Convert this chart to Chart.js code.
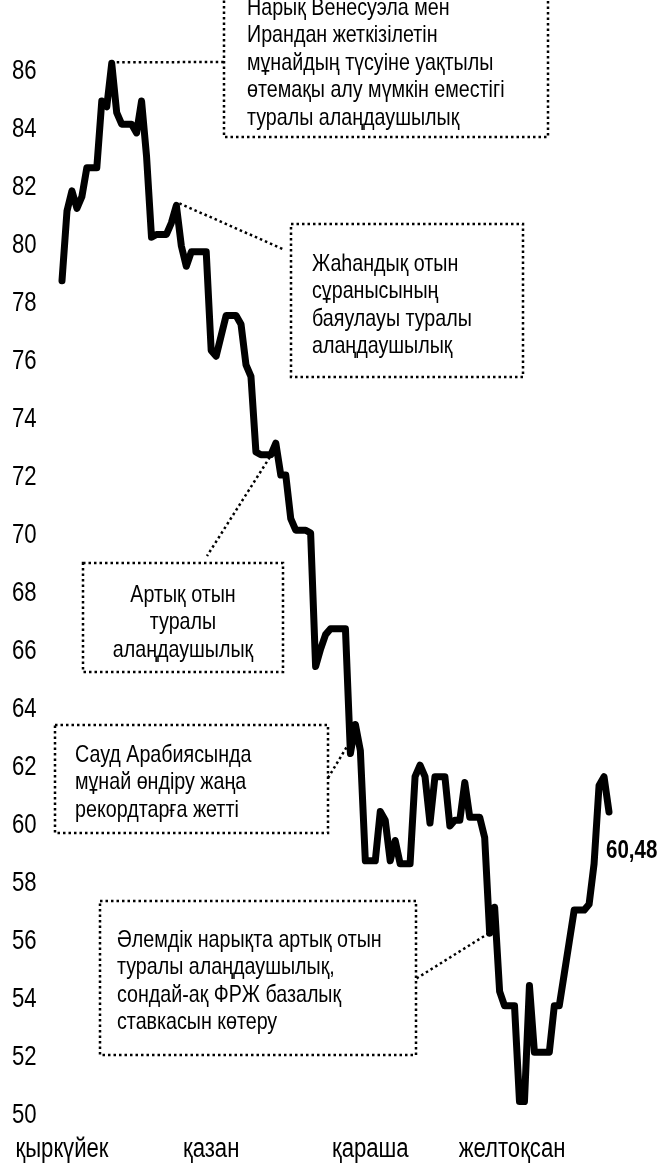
<!DOCTYPE html>
<html>
<head>
<meta charset="utf-8">
<script src="https://cdn.jsdelivr.net/npm/chart.js@4/dist/chart.umd.min.js"></script>
<style>
  html, body { margin: 0; padding: 0; background: #fff; }
  canvas { display: block; }
</style>
</head>
<body>
<canvas id="chart" width="662" height="1164"></canvas>
<script>
// daily closing price (weekends carry the previous value)
const prices = [
  78.8, 81.2, 81.9, 81.3, 81.7, 82.7, 82.7, 82.7, 85.0, 84.8,
  86.3, 84.6, 84.2, 84.2, 84.2, 83.9, 85.0, 83.1, 80.3, 80.4,
  80.4, 80.4, 80.8, 81.4, 80.0, 79.3, 79.8, 79.8, 79.8, 79.8,
  76.4, 76.2, 76.9, 77.6, 77.6, 77.6, 77.3, 75.9, 75.5, 72.9,
  72.8, 72.8, 72.8, 73.2, 72.1, 72.1, 70.6, 70.2, 70.2, 70.2,
  70.1, 65.5, 66.1, 66.6, 66.8, 66.8, 66.8, 66.8, 62.5, 63.5,
  62.6, 58.8, 58.8, 58.8, 60.5, 60.2, 58.8, 59.5, 58.7, 58.7,
  58.7, 61.7, 62.1, 61.7, 60.1, 61.7, 61.7, 61.7, 60.0, 60.2,
  60.2, 61.5, 60.3, 60.3, 60.3, 59.6, 56.3, 57.2, 54.3, 53.8,
  53.8, 53.8, 50.5, 50.5, 54.5, 52.2, 52.2, 52.2, 52.2, 53.8,
  53.8, 54.9, 56.0, 57.1, 57.1, 57.1, 57.3, 58.7, 61.4, 61.7,
  60.48
]

// month labels and the day index they sit under
const monthLabels = ['қыркүйек', 'қазан', 'қараша', 'желтоқсан']
const monthPos = [0, 30, 62, 90.5]

const yMin = 50
const yMax = 86
const yStep = 2

const lastLabel = '60,48'

// annotation texts and the day each one points at
const noteTexts = [
  ['Нарық Венесуэла мен', 'Ирандан жеткізілетін', 'мұнайдың түсуіне уақтылы', 'өтемақы алу мүмкін еместігі', 'туралы алаңдаушылық'],
  ['Жаһандық отын', 'сұранысының', 'баяулауы туралы', 'алаңдаушылық'],
  ['Артық отын', 'туралы', 'алаңдаушылық'],
  ['Сауд Арабиясында', 'мұнай өндіру жаңа', 'рекордтарға жетті'],
  ['Әлемдік нарықта артық отын', 'туралы алаңдаушылық,', 'сондай-ақ ФРЖ базалық', 'ставкасын көтеру']
]
const noteDays = [10, 23, 43, 58, 86]

const FONT = '"Liberation Sans", Arial, sans-serif'
const NARROW = 0.82 // squeeze to look like Arial Narrow

// box layout in pixels: [left, top, right, bottom], text x, first line y, align, connector
const noteLayout = [
  { box: [224, -5, 548, 137], tx: 247, ty: 8, align: 'left', off: [5, -1], end: [224, 62] },
  { box: [291, 224, 523, 377], tx: 312, ty: 264, align: 'left', off: [3, -2], end: [285, 250] },
  { box: [83, 563, 283, 672], tx: 183, ty: 595, align: 'center', off: [-6, 14], end: [207, 556] },
  { box: [55, 725, 328, 833], tx: 75, ty: 755, align: 'left', off: [-4, -6], end: [328, 778] },
  { box: [100, 901, 416, 1055], tx: 117, ty: 940, align: 'left', off: [-1, 0], end: [414, 980] }
]
const lineStep = 27.5

function narrowText(ctx, str, x, y, font, align) {
  ctx.save()
  ctx.font = font
  ctx.textAlign = align
  ctx.textBaseline = 'middle'
  ctx.translate(x, y)
  ctx.scale(NARROW, 1)
  ctx.fillText(str, 0, 0)
  ctx.restore()
}

const textPlugin = {
  id: 'texts',
  afterDraw(chart) {
    const ctx = chart.ctx
    const xs = chart.scales.x
    const ys = chart.scales.y
    ctx.save()
    ctx.fillStyle = '#000'

    // axis labels, placed by the chart's own scales
    ys.ticks.forEach(t => {
      narrowText(ctx, String(t.value), 12, ys.getPixelForValue(t.value), '27px ' + FONT, 'left')
    })
    xs.ticks.forEach((t, i) => {
      narrowText(ctx, monthLabels[i], xs.getPixelForValue(t.value), 1150, '27px ' + FONT, 'center')
    })

    ctx.strokeStyle = '#000'
    ctx.lineWidth = 2.5
    ctx.setLineDash([2.5, 3])

    noteLayout.forEach((n, k) => {
      const [l, t, r, b] = n.box
      ctx.strokeRect(l, t, r - l, b - t)

      // dotted connector from the price line to the box
      const day = noteDays[k]
      const px = xs.getPixelForValue(day) + n.off[0]
      const py = ys.getPixelForValue(prices[day]) + n.off[1]
      ctx.beginPath()
      ctx.moveTo(px, py)
      ctx.lineTo(n.end[0], n.end[1])
      ctx.stroke()

      noteTexts[k].forEach((line, i) => {
        narrowText(ctx, line, n.tx, n.ty + i * lineStep, '24px ' + FONT, n.align)
      })
    })

    // last value label
    const last = prices.length - 1
    const lx = xs.getPixelForValue(last) - 3
    const ly = ys.getPixelForValue(prices[last]) + 39
    narrowText(ctx, lastLabel, lx, ly, 'bold 25px ' + FONT, 'left')
    ctx.restore()
  }
}

new Chart(document.getElementById('chart'), {
  type: 'line',
  data: {
    datasets: [{
      data: prices.map((v, i) => ({ x: i, y: v })),
      borderColor: '#000',
      borderWidth: 7,
      borderJoinStyle: 'round',
      borderCapStyle: 'round',
      pointRadius: 0,
      tension: 0,
      fill: false,
      clip: false
    }]
  },
  options: {
    responsive: false,
    animation: false,
    devicePixelRatio: 1,
    layout: { padding: { left: 12, right: 53, top: 72, bottom: 0 } },
    plugins: {
      legend: { display: false },
      tooltip: { enabled: false }
    },
    scales: {
      x: {
        type: 'linear',
        min: 0,
        max: prices.length - 1,
        grid: { display: false, drawTicks: false },
        border: { display: false },
        afterBuildTicks: (scale) => {
          scale.ticks = monthPos.map(v => ({ value: v }))
        },
        afterFit: (scale) => {
          scale.height = 48
          scale.paddingLeft = 0
          scale.paddingRight = 0
        },
        ticks: { display: false }
      },
      y: {
        min: yMin,
        max: yMax,
        grid: { display: false, drawTicks: false },
        border: { display: false },
        afterFit: (scale) => {
          scale.width = 50
          scale.paddingTop = 0
          scale.paddingBottom = 0
        },
        ticks: { display: false, stepSize: yStep }
      }
    }
  },
  plugins: [textPlugin]
})
</script>
</body>
</html>
